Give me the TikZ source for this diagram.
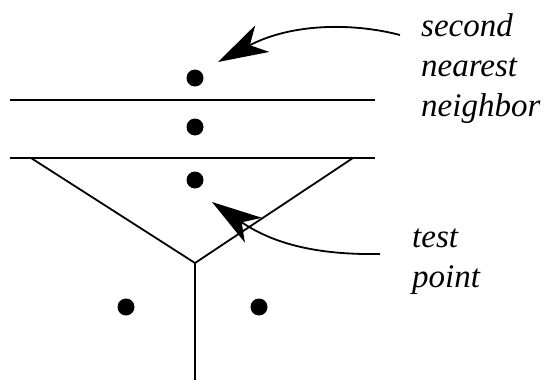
\documentclass[tikz,border=0pt]{standalone}
\usepackage{fontspec}
\setmainfont{Liberation Serif}
\usetikzlibrary{arrows.meta}

\begin{document}
\begin{tikzpicture}[x=1pt, y=-1pt,
  point/.style={circle, fill=black, inner sep=0pt, minimum size=17pt},
  etiquette/.style={font=\fontsize{33}{40}\selectfont\itshape, align=left, inner sep=0pt},
  fleche/.style={-{Stealth[length=50pt, width=30pt, inset=14pt]}, line width=1.8pt}]
\useasboundingbox (0,0) rectangle (547,380);

% Frontieres des cellules
\draw[line width=2pt] (10,100) -- (375,100);
\draw[line width=2pt] (10,158) -- (375,158);
\coordinate (sommet) at (195,263);
\draw[line width=1.8pt] (31,158) -- (sommet) -- (353,158);
\draw[line width=1.8pt] (sommet) -- (195,380);

% Points
\node[point] (voisin2) at (195,78) {};
\node[point] (voisin1) at (195,127) {};
\node[point] (test) at (195,180) {};
\node[point] (gauche) at (126,307) {};
\node[point] (droite) at (259,307) {};

% Labels
\node[etiquette, anchor=north west] (lblvoisin) at (421,13) {second\\nearest\\neighbor};
\node[etiquette, anchor=north west] (lbltest) at (412,229) {test\\point};

% Fleches
\coordinate (depvoisin) at (400,35);
\coordinate (pointevoisin) at (218,62);
\draw[fleche] (depvoisin) .. controls (350,22) and (290,24) .. (pointevoisin);
\coordinate (deptest) at (380,254);
\coordinate (pointetest) at (212,202);
\draw[fleche] (deptest) .. controls (320,255) and (275,245) .. (pointetest);
\end{tikzpicture}
\end{document}
